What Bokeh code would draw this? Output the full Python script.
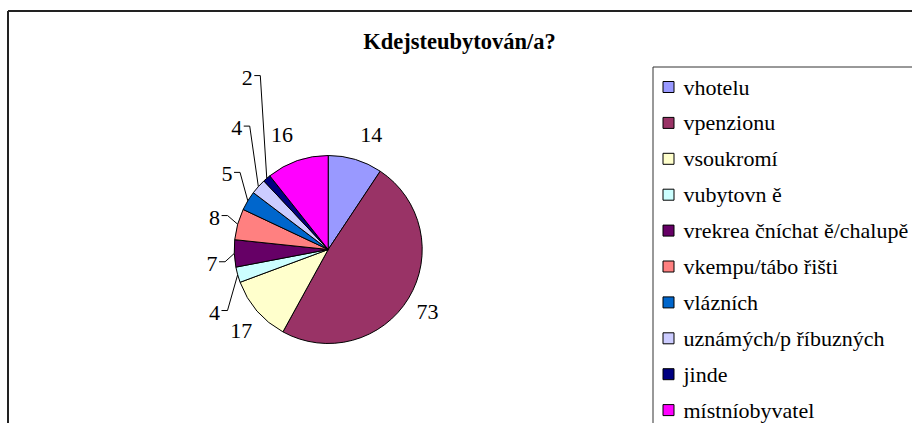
import math
from bokeh.plotting import figure
from bokeh.models import Range1d
from bokeh.core.properties import value
from bokeh.embed import file_html
from bokeh.resources import INLINE

# ---- data ----
title = "Kdejsteubytován/a?"
categories = ["vhotelu", "vpenzionu", "vsoukromí", "vubytovn ě",
              "vrekrea čníchat ě/chalupě", "vkempu/tábo řišti", "vlázních",
              "uznámých/p říbuzných", "jinde", "místníobyvatel"]
counts = [14, 73, 17, 4, 7, 8, 5, 4, 2, 16]
colors = ["#9999FF", "#993366", "#FFFFCC", "#CCFFFF", "#660066",
          "#FF8080", "#0066CC", "#CCCCFF", "#000080", "#FF00FF"]

# ---- layout (label placement around the pie) ----
label_angle = [20.7, 122, 226.7, 241, 263, 285.7, 306.6, 323, 334.8, 338]
label_dist = [122, 117, 119.5, 130, 117, 118, 126, 152, 190, 123]
has_leader = [False, False, False, True, True, True, True, True, True, False]

W, H = 912, 423
FONT = "Liberation Serif"

def Y(py):
    return H - py

p = figure(width=W, height=H, output_backend="svg", toolbar_location=None,
           x_range=Range1d(0, W), y_range=Range1d(0, H),
           min_border=0, tools="")
p.axis.visible = False
p.grid.visible = False
p.outline_line_color = None
p.background_fill_color = "white"

# outer chart frame
p.line([7.5, W], [Y(10.5), Y(10.5)], line_color="#222222", line_width=2)
p.line([7.5, 7.5], [Y(10.5), 0], line_color="#222222", line_width=2)

# title
p.text(x=[459], y=[Y(40.5)], text=[title], text_font=value(FONT),
       text_font_size="22.5px", text_font_style="bold", text_align="center",
       text_baseline="middle", text_color="black")

# pie
cx, cy, r = 327.7, Y(249), 94
total = sum(counts)
starts, ends, mids = [], [], []
acc = 0
for c in counts:
    t1 = acc / total * 360
    acc += c
    t2 = acc / total * 360
    starts.append(math.radians(90 - t2))
    ends.append(math.radians(90 - t1))
    mids.append((t1 + t2) / 2)

p.wedge(x=[cx] * len(counts), y=[cy] * len(counts), radius=r,
        start_angle=starts, end_angle=ends, fill_color=colors,
        line_color="black", line_width=1)

# data labels
lx, ly = [], []
for a, d in zip(label_angle, label_dist):
    lx.append(cx + d * math.sin(math.radians(a)))
    ly.append(cy + d * math.cos(math.radians(a)))
p.text(x=lx, y=ly, text=[str(c) for c in counts], text_font=value(FONT),
       text_font_size="22px", text_align="center", text_baseline="middle",
       text_color="black")

# leader lines
xs, ys = [], []
for i, lead in enumerate(has_leader):
    if not lead:
        continue
    wdt = 5.5 * len(str(counts[i]))
    x0 = lx[i] + wdt + 1.5
    y0 = ly[i] + 2
    px = cx + r * math.sin(math.radians(mids[i]))
    py = cy + r * math.cos(math.radians(mids[i]))
    xs.append([x0, x0 + 6, px])
    ys.append([y0, y0, py])
p.multi_line(xs=xs, ys=ys, line_color="black", line_width=1)

# legend box
p.line([652.5, W], [Y(66.5), Y(66.5)], line_color="#333333", line_width=1)
p.line([652.5, 652.5], [Y(66.5), 0], line_color="#333333", line_width=1)

row_y = [Y(86.5 + i * 35.9) for i in range(len(categories))]
p.rect(x=[668] * len(categories), y=row_y, width=11, height=11,
       fill_color=colors, line_color="black", line_width=1)
p.text(x=[683] * len(categories), y=row_y, text=categories,
       text_font=value(FONT), text_font_size="22px", text_align="left",
       text_baseline="middle", text_color="black")

open("out.html", "w").write(file_html(p, INLINE))
